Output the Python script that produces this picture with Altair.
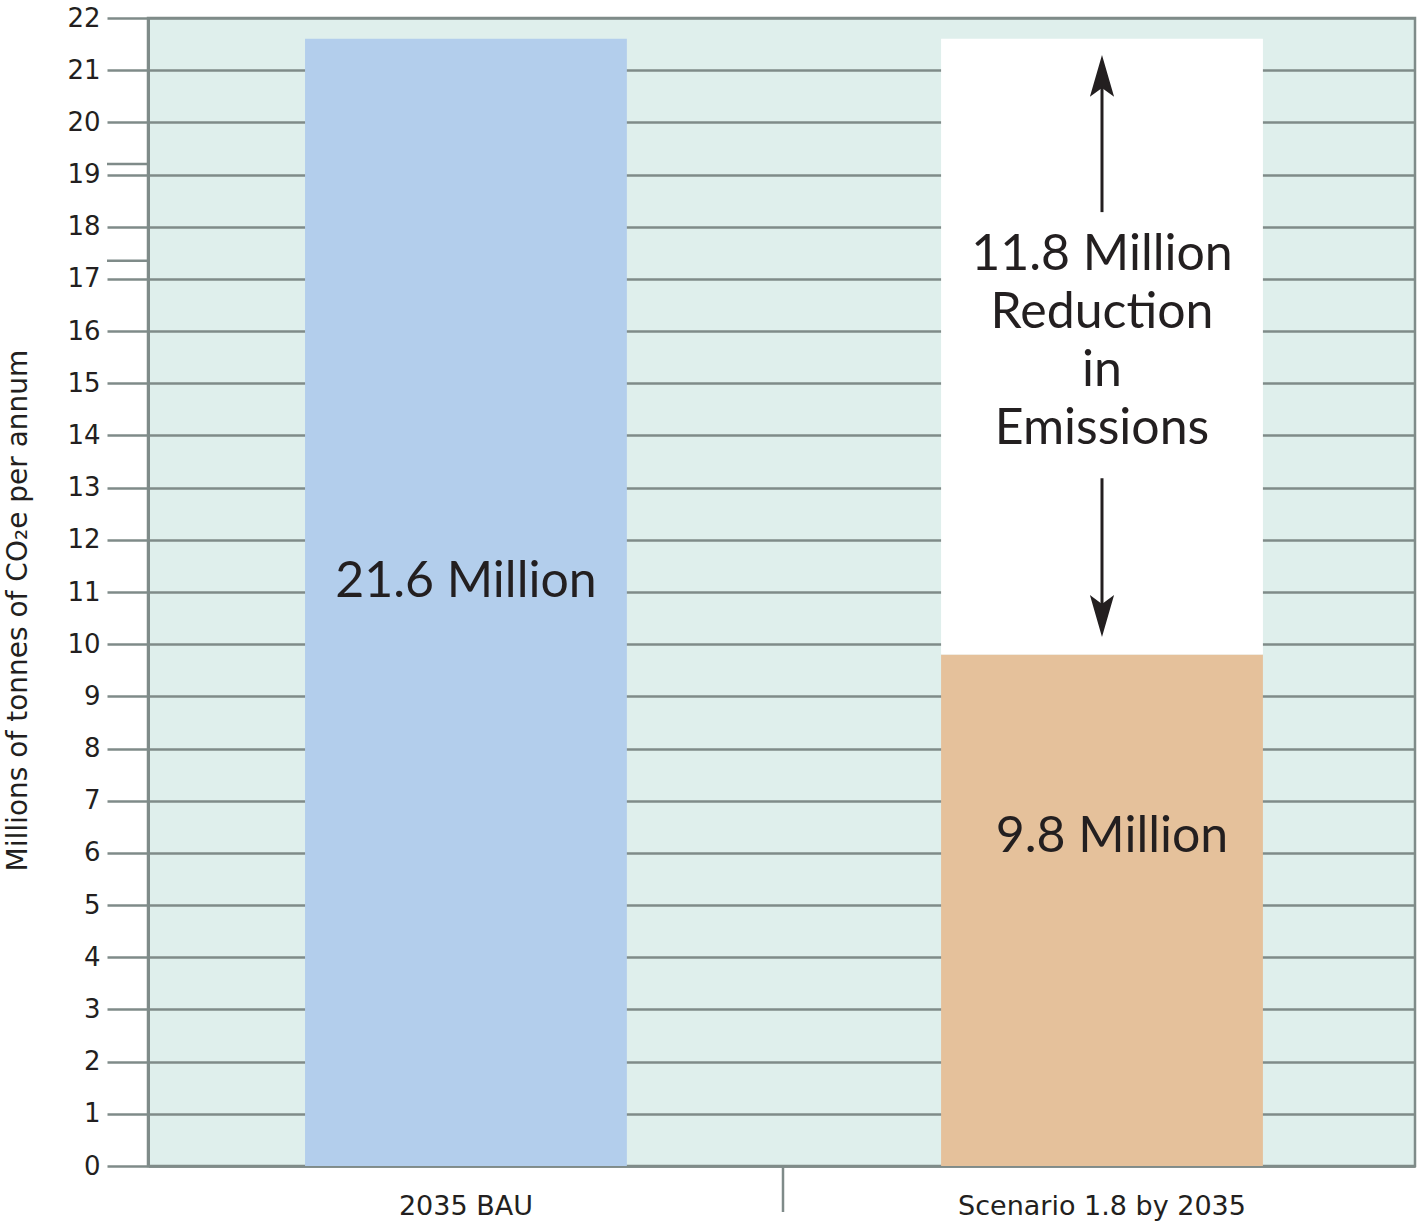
import altair as alt
import pandas as pd

# ---- data ----
categories = ["2035 BAU", "Scenario 1.8 by 2035"]
emissions = [21.6, 9.8]
reduction = 11.8
bar_colors = ["#b3ceec", "#e5c19b"]
reduction_color = "#ffffff"
y_ticks = list(range(0, 23))
stray_ticks = [19.2, 17.35]

value_labels = ["21.6 Million", "9.8 Million"]
value_label_y = [11.2, 6.3]
reduction_lines = ["11.8 Million", "Reduction", "in", "Emissions"]
reduction_label_y = 17.46     # first line
arrow_up = [18.28, 21.0]      # shaft from, to
arrow_up_tip = 21.29
arrow_down = [13.18, 10.5]
arrow_down_tip = 10.14

GRID = "#7f8b89"
TEXT = "#231f20"

bar_df = pd.DataFrame({
    "cat": categories + [categories[1]],
    "y0": [0, 0, emissions[1]],
    "y1": [emissions[0], emissions[1], emissions[1] + reduction],
    "color": bar_colors + [reduction_color],
})

x_scale = alt.Scale(domain=categories, paddingInner=0.494, paddingOuter=0.243, align=0.508)
x_enc = alt.X(
    "cat:N",
    sort=categories,
    scale=x_scale,
    axis=alt.Axis(
        title=None, labelAngle=0, ticks=False, domainColor=GRID, domainWidth=2.5,
        labelFont="DejaVu Sans", labelFontSize=27, labelColor=TEXT, labelPadding=27,
        labelLimit=0,
    ),
)
y_scale = alt.Scale(domain=[0, 22], nice=False, zero=True)
x_plain = alt.X("cat:N", sort=categories, scale=x_scale)

bars = alt.Chart(bar_df).mark_bar(strokeWidth=0).encode(
    x=x_enc,
    y=alt.Y(
        "y0:Q",
        scale=y_scale,
        axis=alt.Axis(
            values=y_ticks, title="Millions of tonnes of CO₂e per annum",
            titleFont="DejaVu Sans", titleFontSize=28, titleFontWeight="normal",
            titleColor=TEXT, titleX=-130, titleY=592, titleAngle=-90,
            titleAlign="center", titleBaseline="middle",
            labelFont="DejaVu Sans", labelFontSize=26, labelColor=TEXT, labelPadding=7,
            tickSize=41, tickColor=GRID, tickWidth=2.5,
            grid=True, gridColor=GRID, gridWidth=2.5,
            domainColor=GRID, domainWidth=3,
        ),
    ),
    y2="y1:Q",
    color=alt.Color("color:N", scale=None),
)

val_df = pd.DataFrame({"cat": categories, "y": value_label_y, "t": value_labels})
val_text_bau = alt.Chart(val_df).transform_filter(
    alt.datum.cat == categories[0]
).mark_text(
    font="Lato", fontSize=50, color=TEXT, align="center", baseline="middle"
).encode(x=x_plain, y=alt.Y("y:Q", scale=y_scale), text="t:N")
val_text_sc = alt.Chart(val_df).transform_filter(
    alt.datum.cat == categories[1]
).mark_text(
    font="Lato", fontSize=50, color=TEXT, align="center", baseline="middle", dx=10
).encode(x=x_plain, y=alt.Y("y:Q", scale=y_scale), text="t:N")

red_df = pd.DataFrame({"cat": [categories[1]], "y": [reduction_label_y],
                       "t": ["\n".join(reduction_lines)]})
red_text = alt.Chart(red_df).mark_text(
    font="Lato", fontSize=50, color=TEXT, align="center", baseline="middle",
    lineBreak="\n", lineHeight=58,
).encode(x=x_plain, y=alt.Y("y:Q", scale=y_scale), text="t:N")

shaft_df = pd.DataFrame({
    "cat": [categories[1], categories[1]],
    "a": [arrow_up[0], arrow_down[0]],
    "b": [arrow_up[1], arrow_down[1]],
})
shafts = alt.Chart(shaft_df).mark_rule(color=TEXT, strokeWidth=3).encode(
    x=x_plain, y=alt.Y("a:Q", scale=y_scale), y2="b:Q"
)
up_head = alt.Chart(pd.DataFrame({"cat": [categories[1]], "y": [arrow_up_tip]})).mark_point(
    shape="M0,0L0.55,1.9L0,1.5L-0.55,1.9Z", filled=True, size=1936, color=TEXT, opacity=1,
    strokeWidth=0,
).encode(x=x_plain, y=alt.Y("y:Q", scale=y_scale))
down_head = alt.Chart(pd.DataFrame({"cat": [categories[1]], "y": [arrow_down_tip]})).mark_point(
    shape="M0,0L0.55,-1.9L0,-1.5L-0.55,-1.9Z", filled=True, size=1936, color=TEXT, opacity=1,
    strokeWidth=0,
).encode(x=x_plain, y=alt.Y("y:Q", scale=y_scale))

separator = alt.Chart(pd.DataFrame({"k": [0]})).mark_rule(color=GRID, strokeWidth=2.5).encode(
    x=alt.value(635), y=alt.value(1148), y2=alt.value(1194)
)
stray = alt.Chart(pd.DataFrame({"y": stray_ticks})).mark_rule(color=GRID, strokeWidth=2.5).encode(
    x=alt.value(-41), x2=alt.value(0), y=alt.Y("y:Q", scale=y_scale)
)

chart = alt.layer(bars, val_text_bau, val_text_sc, red_text, shafts, up_head, down_head,
                  separator, stray).properties(
    width=1267, height=1148,
    autosize=alt.AutoSizeParams(type="none"),
    padding={"left": 148, "top": 18, "right": 2, "bottom": 59},
    background="#ffffff",
).configure_view(
    fill="#dfefec", stroke=GRID, strokeWidth=2.5
)

chart.save("out.html", embed_options={"renderer": "svg", "actions": False})
